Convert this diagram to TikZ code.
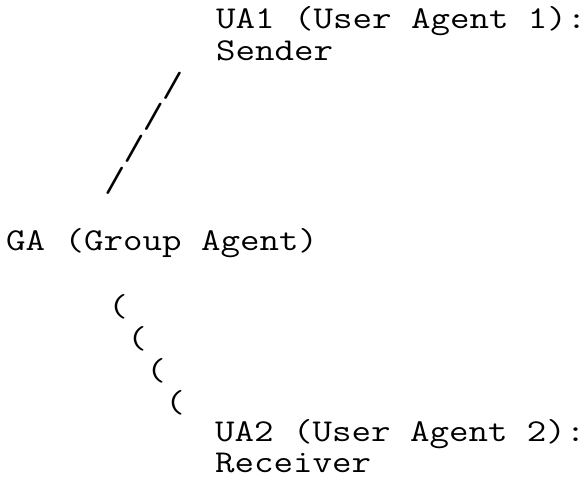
\documentclass[tikz,border=0pt]{standalone}
\usepackage{fontspec}
\setmonofont{Latin Modern Mono}[FakeStretch=1.19]
\usepackage{tikz}

\tikzset{
    linetext/.style={anchor=base west},
    artchar/.style={anchor=center},
    slashchar/.style={artchar,font=\ttfamily\fontsize{35}{35}\selectfont}
}

\begin{document}
\begin{tikzpicture}[x=1pt,y=-1pt,inner sep=0pt,
    every node/.style={font=\ttfamily\fontsize{31.8}{31.8}\selectfont}]
        \useasboundingbox (0,0) rectangle (585,478);
        % one line = 31.7 high
        \node[linetext] (ua1) at (216,29) {UA1 (User Agent 1):};
        \node[linetext] (sender) at (216,{29+1*31.7}) {Sender};
        \foreach \l in {2,...,5}
            \node[slashchar] (slash\l) at ({172.5-(\l-2)*19.2},{85.5+(\l-2)*31.7}) {/};
        \node[linetext] (ga) at (6,{29+7*31.7}) {GA (Group Agent)};
        \foreach \l in {9,...,12}
            \node[artchar] (paren\l) at ({118+(\l-9)*19},{307+(\l-9)*32}) {(};
        \node[linetext] (ua2) at (215,{29+13*31.75}) {UA2 (User Agent 2):};
        \node[linetext] (receiver) at (215,{29+14*31.7}) {Receiver};
    \end{tikzpicture}
\end{document}
